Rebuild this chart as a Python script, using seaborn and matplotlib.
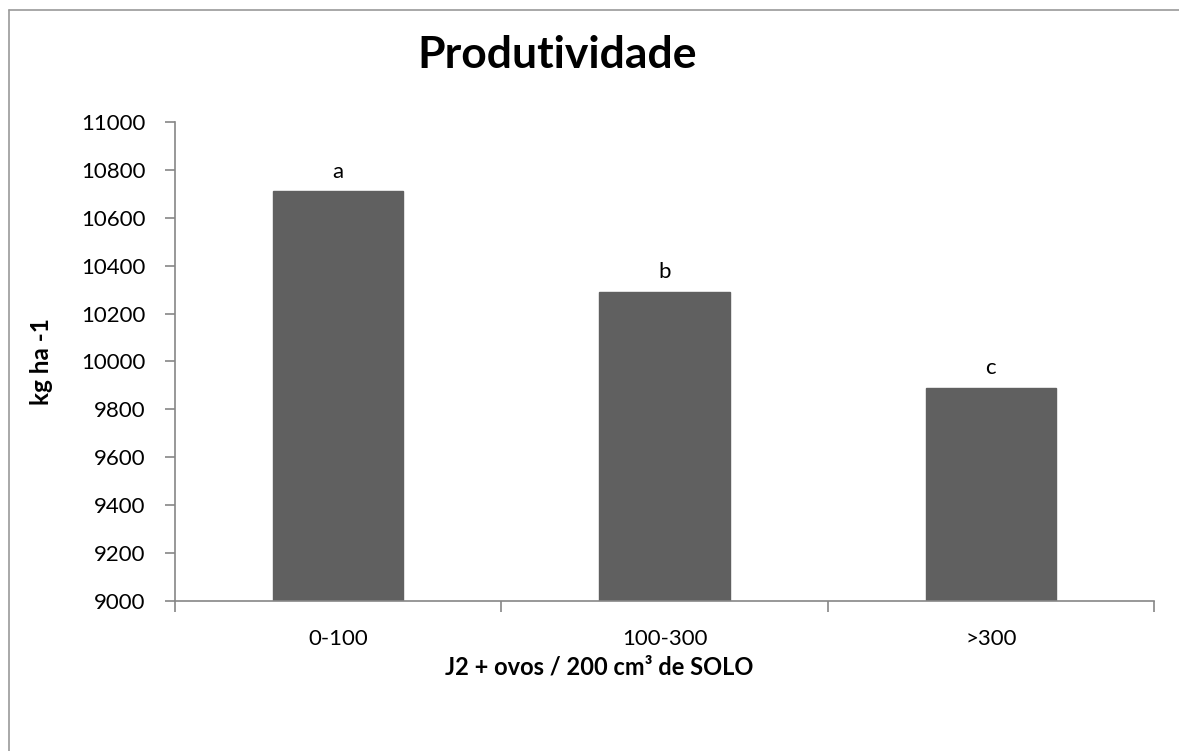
import matplotlib
matplotlib.use('Agg')
import matplotlib.pyplot as plt
import seaborn as sns
import pandas as pd
from matplotlib.lines import Line2D

categories = ['0-100', '100-300', '>300']
produtividade = [10710, 10290, 9890]
letras = ['a', 'b', 'c']

sns.set_style('white')
plt.rcParams['font.family'] = ['Lato', 'DejaVu Sans']
plt.rcParams['text.color'] = 'black'
plt.rcParams['axes.labelcolor'] = 'black'

df = pd.DataFrame({'classe': categories, 'kg': produtividade})

fig = plt.figure(figsize=(11.79, 7.51), dpi=100)
ax = fig.add_axes([0.1484, 0.1997, 0.9788 - 0.1484, 0.8376 - 0.1997])

sns.barplot(data=df, x='classe', y='kg', color='#606060', width=0.4,
            saturation=1, ax=ax)
for p in ax.patches:
    p.set_edgecolor('#606060')

ax.set_ylim(9000, 11000)
ax.set_xlim(-0.5, 2.5)
ax.set_yticks(range(9000, 11001, 200))
ax.set_xticks([-0.5, 0.5, 1.5, 2.5], minor=True)
ax.tick_params(axis='x', which='major', length=0, pad=20, labelsize=16, labelcolor='black')
ax.tick_params(axis='x', which='minor', length=8, color='#868686', width=1.2, direction='out')
ax.tick_params(axis='y', length=7, color='#868686', width=1.2, direction='out', pad=14,
               labelsize=16, labelcolor='black')
ax.xaxis.set_ticks_position('bottom')
ax.yaxis.set_ticks_position('left')

for side in ['top', 'right']:
    ax.spines[side].set_visible(False)
for side in ['left', 'bottom']:
    ax.spines[side].set_color('#868686')
    ax.spines[side].set_linewidth(1.2)

for i, (v, l) in enumerate(zip(produtividade, letras)):
    ax.text(i, v + 40, l, ha='center', va='bottom', fontsize=16)

ax.set_xlabel('J2 + ovos / 200 cm³ de SOLO', fontsize=17, fontweight='bold')
ax.xaxis.label.set_va('center')
ax.xaxis.set_label_coords(0.433, -0.138)
ax.set_ylabel('kg ha -1', fontsize=17.5, fontweight='bold')
ax.yaxis.label.set_va('center')
ax.yaxis.set_label_coords(-0.136, 0.5)
fig.text(0.4725, 0.927, 'Produtividade', ha='center', va='center',
         fontsize=32, fontweight='bold')

# moldura do grafico (lados esquerdo e superior visiveis)
x0, y0 = 8.5 / 1179, 1 - 9.5 / 751
fig.add_artist(Line2D([x0, x0], [0, y0], transform=fig.transFigure, color='#9a9a9a', lw=1.2))
fig.add_artist(Line2D([x0, 1], [y0, y0], transform=fig.transFigure, color='#9a9a9a', lw=1.2))

fig.savefig('out.png', dpi=100)
